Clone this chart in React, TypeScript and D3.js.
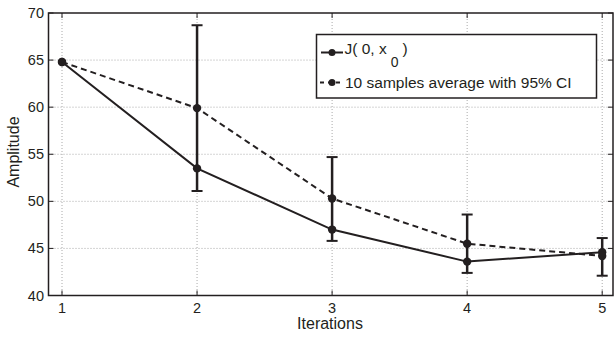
import React, { useEffect, useRef } from "react";
import * as d3 from "d3";

const iterations = [1, 2, 3, 4, 5];
const jValues = [64.8, 53.5, 47.0, 43.6, 44.6];
const avgValues = [64.8, 59.9, 50.3, 45.5, 44.2];
const ciLow = [null, 51.1, 45.8, 42.4, 42.1];
const ciHigh = [null, 68.7, 54.7, 48.6, 46.1];
const yTicks = [40, 45, 50, 55, 60, 65, 70];
const xTicks = [1, 2, 3, 4, 5];

const W = 614;
const H = 337;
const ink = "#231f20";
const font = "'Liberation Sans', Arial, sans-serif";

const App = () => {
  const ref = useRef<SVGSVGElement | null>(null);

  useEffect(() => {
    const svg = d3.select(ref.current);
    svg.selectAll("*").remove();

    const left = 48.5;
    const right = 613;
    const top = 13;
    const bottom = 295.5;

    const x = d3.scaleLinear().domain([0.9, 5.08]).range([left, right]);
    const y = d3.scaleLinear().domain([40, 70]).range([bottom, top]);

    // grid
    svg
      .selectAll(".gx")
      .data(xTicks)
      .enter()
      .append("line")
      .attr("x1", (d) => x(d))
      .attr("x2", (d) => x(d))
      .attr("y1", top)
      .attr("y2", bottom)
      .attr("stroke", "#aaa")
      .attr("stroke-width", 1)
      .attr("stroke-dasharray", "1,2");
    svg
      .selectAll(".gy")
      .data(yTicks.slice(1, -1))
      .enter()
      .append("line")
      .attr("x1", left)
      .attr("x2", right)
      .attr("y1", (d) => y(d))
      .attr("y2", (d) => y(d))
      .attr("stroke", "#aaa")
      .attr("stroke-width", 1)
      .attr("stroke-dasharray", "1,2");

    // ticks (inside, all four sides)
    const tk = 5;
    xTicks.forEach((t) => {
      svg.append("line").attr("x1", x(t)).attr("x2", x(t)).attr("y1", bottom).attr("y2", bottom - tk).attr("stroke", ink).attr("stroke-width", 1);
      svg.append("line").attr("x1", x(t)).attr("x2", x(t)).attr("y1", top).attr("y2", top + tk).attr("stroke", ink).attr("stroke-width", 1);
      svg
        .append("text")
        .attr("x", x(t))
        .attr("y", 313)
        .attr("text-anchor", "middle")
        .style("font-family", font)
        .style("font-size", "14.5px")
        .attr("fill", ink)
        .text(t);
    });
    yTicks.forEach((t) => {
      svg.append("line").attr("x1", left).attr("x2", left + tk).attr("y1", y(t)).attr("y2", y(t)).attr("stroke", ink).attr("stroke-width", 1);
      svg.append("line").attr("x1", right).attr("x2", right - tk).attr("y1", y(t)).attr("y2", y(t)).attr("stroke", ink).attr("stroke-width", 1);
      svg
        .append("text")
        .attr("x", left - 4.5)
        .attr("y", y(t) + 5)
        .attr("text-anchor", "end")
        .style("font-family", font)
        .style("font-size", "14.5px")
        .attr("fill", ink)
        .text(t);
    });

    // box
    svg
      .append("rect")
      .attr("x", left)
      .attr("y", top)
      .attr("width", right - left)
      .attr("height", bottom - top)
      .attr("fill", "none")
      .attr("stroke", ink)
      .attr("stroke-width", 1.5);

    // axis labels
    svg
      .append("text")
      .attr("x", 330)
      .attr("y", 329)
      .attr("text-anchor", "middle")
      .style("font-family", font)
      .style("font-size", "16px")
      .attr("fill", ink)
      .text("Iterations");
    svg
      .append("text")
      .attr("transform", `translate(18.5, 152) rotate(-90)`)
      .attr("text-anchor", "middle")
      .style("font-family", font)
      .style("font-size", "16px")
      .attr("fill", ink)
      .text("Amplitude");

    const line = d3
      .line<number>()
      .x((d, i) => x(iterations[i]))
      .y((d) => y(d));

    svg
      .append("path")
      .attr("d", line(avgValues))
      .attr("fill", "none")
      .attr("stroke", ink)
      .attr("stroke-width", 2)
      .attr("stroke-dasharray", "6,4");
    svg
      .append("path")
      .attr("d", line(jValues))
      .attr("fill", "none")
      .attr("stroke", ink)
      .attr("stroke-width", 2);

    // error bars
    const cap = 5.5;
    iterations.forEach((it, i) => {
      const lo = ciLow[i];
      const hi = ciHigh[i];
      if (lo == null || hi == null) return;
      const cx = x(it);
      svg.append("line").attr("x1", cx).attr("x2", cx).attr("y1", y(lo)).attr("y2", y(hi)).attr("stroke", ink).attr("stroke-width", 2.5);
      svg.append("line").attr("x1", cx - cap).attr("x2", cx + cap).attr("y1", y(lo)).attr("y2", y(lo)).attr("stroke", ink).attr("stroke-width", 2);
      svg.append("line").attr("x1", cx - cap).attr("x2", cx + cap).attr("y1", y(hi)).attr("y2", y(hi)).attr("stroke", ink).attr("stroke-width", 2);
    });

    [jValues, avgValues].forEach((vals) => {
      svg
        .append("g")
        .selectAll("circle")
        .data(vals)
        .enter()
        .append("circle")
        .attr("cx", (d, i) => x(iterations[i]))
        .attr("cy", (d) => y(d))
        .attr("r", 4.2)
        .attr("fill", ink);
    });

    // legend
    const lg = svg.append("g");
    lg.append("rect")
      .attr("x", 316.5)
      .attr("y", 34.5)
      .attr("width", 280)
      .attr("height", 63.5)
      .attr("fill", "#fff")
      .attr("stroke", ink)
      .attr("stroke-width", 1.5);
    lg.append("line").attr("x1", 321).attr("x2", 343).attr("y1", 52.5).attr("y2", 52.5).attr("stroke", ink).attr("stroke-width", 2);
    lg.append("circle").attr("cx", 332).attr("cy", 52.5).attr("r", 3.5).attr("fill", ink);
    lg.append("line").attr("x1", 320).attr("x2", 344).attr("y1", 82.5).attr("y2", 82.5).attr("stroke", ink).attr("stroke-width", 2).attr("stroke-dasharray", "4,4");
    lg.append("circle").attr("cx", 332).attr("cy", 82.5).attr("r", 3.5).attr("fill", ink);

    const t1 = lg
      .append("text")
      .attr("x", 344.5)
      .attr("y", 53.5)
      .style("font-family", font)
      .style("font-size", "15.5px")
      .attr("fill", ink);
    t1.append("tspan").text("J( 0, x");
    t1.append("tspan").attr("dx", 4).attr("dy", 13.5).style("font-size", "14px").text("0");
    t1.append("tspan").attr("dx", 4).attr("dy", -13.5).text(")");

    lg.append("text")
      .attr("x", 345)
      .attr("y", 88)
      .style("font-family", font)
      .style("font-size", "15.5px")
      .attr("fill", ink)
      .text("10 samples average with 95% CI");
  });

  return (
    <svg
      ref={ref}
      width={W}
      height={H}
      style={{ position: "absolute", left: 0, top: 0, background: "#fff" }}
    />
  );
};

export default App;
